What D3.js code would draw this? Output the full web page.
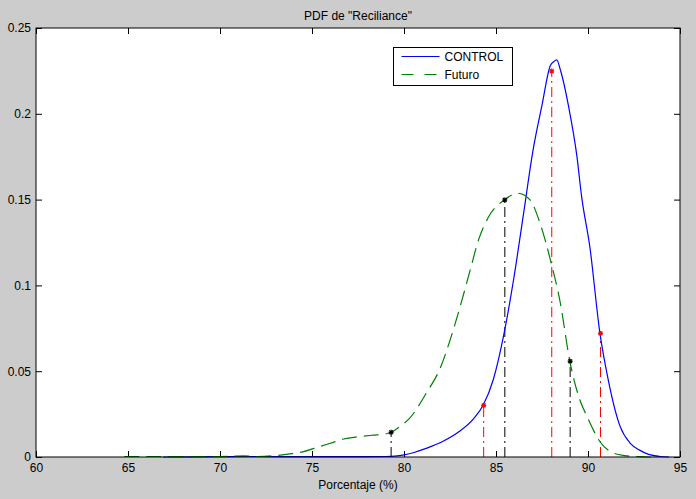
<!DOCTYPE html>
<html>
<head>
<meta charset="utf-8">
<script src="https://cdn.jsdelivr.net/npm/d3@7/dist/d3.min.js"></script>
<style>
  html, body { margin: 0; padding: 0; background: #cccccc; }
  #chart { width: 696px; height: 499px; }
  text { font-family: "Liberation Sans", Arial, sans-serif; }
</style>
</head>
<body>
<div id="chart"></div>
<script>
// CONTROL curve
const controlX = [66.9, 70, 72, 75, 77, 78, 79, 79.5, 80, 80.5, 81.2, 82.1, 83.0, 83.8, 84.3, 84.85, 85.4, 85.95, 86.5, 87.0, 87.5, 87.95, 88.15, 88.3, 88.5, 88.95, 89.4, 89.65, 90.1, 90.65, 91.1, 91.75, 92.3, 92.8, 93.3, 93.9, 94.4];
const controlY = [0, 0.0002, 0.0003, 0.0002, 0.0002, 0.0002, 0.0003, 0.0005, 0.0012, 0.0025, 0.005, 0.009, 0.0148, 0.0225, 0.0301, 0.045, 0.070, 0.103, 0.142, 0.178, 0.205, 0.228, 0.2305, 0.2314, 0.2255, 0.204, 0.175, 0.152, 0.1225, 0.072, 0.045, 0.0177, 0.008, 0.004, 0.0015, 0.0003, 0];

// Futuro curve
const futuroX = [64.8, 66, 68, 70, 71.3, 72, 72.9, 73.7, 74.5, 75.1, 76.0, 76.7, 77.6, 78.3, 79.0, 79.3, 79.8, 80.3, 81.2, 82.0, 82.5, 83.05, 83.6, 84.05, 84.6, 85.45, 86.2, 86.85, 87.4, 88.0, 88.5, 89.0, 89.55, 89.95, 90.65, 91.4, 92.0, 92.8, 93.5];
const futuroY = [0.0003, 0.0003, 0.0003, 0.0003, 0.0006, 0.0003, 0.0007, 0.0017, 0.003, 0.005, 0.008, 0.0105, 0.0119, 0.0127, 0.0134, 0.0144, 0.018, 0.0225, 0.037, 0.0526, 0.068, 0.0876, 0.109, 0.1265, 0.140, 0.1498, 0.1537, 0.1498, 0.136, 0.113, 0.0896, 0.0565, 0.0335, 0.0235, 0.0089, 0.0022, 0.0008, 0.0002, 0];

// marked points with their vertical drop lines
const blackMarkX = [79.3, 85.48, 89.03];
const blackMarkY = [0.0144, 0.1498, 0.0558];
const redMarkX = [84.33, 88.03, 90.68];
const redMarkY = [0.0301, 0.2249, 0.072];

const xTicks = [60, 65, 70, 75, 80, 85, 90, 95];
const yTicks = [0, 0.05, 0.1, 0.15, 0.2, 0.25];
const yTickLabels = ["0", "0.05", "0.1", "0.15", "0.2", "0.25"];

const seriesNames = ["CONTROL", "Futuro"];
const titleText = "PDF de \"Reciliance\"";
const xLabelText = "Porcentaje (%)";

const width = 696;
const height = 499;
const margin = { top: 28, right: 16, bottom: 42, left: 36 };
const innerWidth = width - margin.left - margin.right;
const innerHeight = height - margin.top - margin.bottom;

const svg = d3.select("#chart")
  .append("svg")
  .attr("width", width)
  .attr("height", height);

svg.append("rect")
  .attr("width", width)
  .attr("height", height)
  .attr("fill", "#cccccc");

const chart = svg.append("g")
  .attr("transform", `translate(${margin.left},${margin.top})`);

const x = d3.scaleLinear().domain([60, 95]).range([0, innerWidth]);
const y = d3.scaleLinear().domain([0, 0.25]).range([innerHeight, 0]);

chart.append("rect")
  .attr("width", innerWidth)
  .attr("height", innerHeight)
  .attr("fill", "#ffffff");

const fontSize = 12;
const tickLen = 6;

// axes: MATLAB style, ticks inward on all four sides
const styleAxis = (g) => {
  g.select(".domain").remove();
  g.selectAll("line").attr("stroke", "#000").attr("stroke-width", 1);
  g.selectAll("text")
    .attr("fill", "#000")
    .style("font-size", fontSize + "px")
    .style("font-family", "'Liberation Sans', Arial, sans-serif");
};

// top and right only carry tick marks
const ticksOnly = (g) => {
  styleAxis(g);
  g.selectAll("text").remove();
};

chart.append("g")
  .attr("transform", `translate(0,${innerHeight})`)
  .call(d3.axisBottom(x).tickValues(xTicks).tickSize(-tickLen).tickPadding(6).tickFormat(d3.format("d")))
  .call(styleAxis);

chart.append("g")
  .call(d3.axisTop(x).tickValues(xTicks).tickSize(-tickLen))
  .call(ticksOnly);

chart.append("g")
  .call(d3.axisLeft(y).tickValues(yTicks).tickSize(-tickLen).tickPadding(5)
    .tickFormat((d, i) => yTickLabels[i]))
  .call(styleAxis);

chart.append("g")
  .attr("transform", `translate(${innerWidth},0)`)
  .call(d3.axisRight(y).tickValues(yTicks).tickSize(-tickLen))
  .call(ticksOnly);

// vertical dash-dot lines under the markers
const drops = [];
blackMarkX.forEach((v, i) => drops.push({ x: v, y: blackMarkY[i], color: "#000000" }));
redMarkX.forEach((v, i) => drops.push({ x: v, y: redMarkY[i], color: "#ff0000" }));

chart.selectAll(".drop")
  .data(drops)
  .enter()
  .append("line")
  .attr("class", "drop")
  .attr("x1", (d) => x(d.x))
  .attr("x2", (d) => x(d.x))
  .attr("y1", y(0))
  .attr("y2", (d) => y(d.y))
  .attr("stroke", (d) => d.color)
  .attr("stroke-width", 1)
  .attr("stroke-dasharray", "10,4,2,4");

const line = d3.line()
  .x((d) => x(d[0]))
  .y((d) => y(d[1]))
  .curve(d3.curveMonotoneX);

const controlData = controlX.map((v, i) => [v, controlY[i]]);
const futuroData = futuroX.map((v, i) => [v, futuroY[i]]);

chart.append("path")
  .datum(controlData)
  .attr("d", line)
  .attr("fill", "none")
  .attr("stroke", "#0000ff")
  .attr("stroke-width", 1.2);

chart.append("path")
  .datum(futuroData)
  .attr("d", line)
  .attr("fill", "none")
  .attr("stroke", "#008000")
  .attr("stroke-width", 1.2)
  .attr("stroke-dasharray", "15,7");

// asterisk markers
const star = (g, px, py, color) => {
  const s = 2.5;
  const p = g.append("g").attr("stroke", color).attr("stroke-width", 1.3);
  p.append("line").attr("x1", px - s).attr("x2", px + s).attr("y1", py).attr("y2", py);
  p.append("line").attr("x1", px).attr("x2", px).attr("y1", py - s).attr("y2", py + s);
  p.append("line").attr("x1", px - s * 0.75).attr("x2", px + s * 0.75).attr("y1", py - s * 0.75).attr("y2", py + s * 0.75);
  p.append("line").attr("x1", px - s * 0.75).attr("x2", px + s * 0.75).attr("y1", py + s * 0.75).attr("y2", py - s * 0.75);
};

drops.forEach((d) => star(chart, x(d.x), y(d.y), d.color));

// plot frame
chart.append("rect")
  .attr("width", innerWidth)
  .attr("height", innerHeight)
  .attr("fill", "none")
  .attr("stroke", "#000")
  .attr("stroke-width", 1);

// title and x label
svg.append("text")
  .attr("x", margin.left + innerWidth / 2)
  .attr("y", 20)
  .attr("text-anchor", "middle")
  .attr("font-size", fontSize)
  .attr("fill", "#000")
  .text(titleText);

svg.append("text")
  .attr("x", margin.left + innerWidth / 2)
  .attr("y", 489)
  .attr("text-anchor", "middle")
  .attr("font-size", fontSize)
  .attr("fill", "#000")
  .text(xLabelText);

// legend
const legend = svg.append("g").attr("transform", "translate(393.5,47.5)");

legend.append("rect")
  .attr("width", 119)
  .attr("height", 38)
  .attr("fill", "#ffffff")
  .attr("stroke", "#000")
  .attr("stroke-width", 1);

const legendColors = ["#0000ff", "#008000"];
const legendDash = [null, "12,11"];

seriesNames.forEach((name, i) => {
  const ly = 9 + i * 18;
  legend.append("line")
    .attr("x1", 8)
    .attr("x2", 46)
    .attr("y1", ly)
    .attr("y2", ly)
    .attr("stroke", legendColors[i])
    .attr("stroke-width", 1.2)
    .attr("stroke-dasharray", legendDash[i]);

  legend.append("text")
    .attr("x", 51)
    .attr("y", ly + 4)
    .attr("font-size", fontSize)
    .attr("fill", "#000")
    .text(name);
});
</script>
</body>
</html>
